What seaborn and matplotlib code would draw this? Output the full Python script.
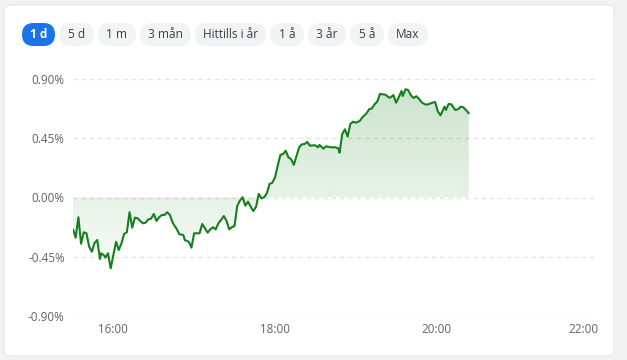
import numpy as np
import pandas as pd
import matplotlib
matplotlib.use("Agg")
import matplotlib.pyplot as plt
import matplotlib.dates as mdates
from matplotlib.patches import FancyBboxPatch
import seaborn as sns

#%% data
# minutes after 15:30 and change in percent
minutes = [0, 2, 4, 6, 8, 10, 12, 14, 16, 18, 20, 21, 23, 24, 26, 28, 30, 32, 34, 36,
           38, 40, 42, 44, 46, 48, 50, 52, 54, 56, 58, 60, 62, 64, 66, 68, 70, 72, 74, 77,
           79, 82, 83, 86, 88, 90, 92, 94, 96, 98, 100, 102, 104, 106, 108, 110, 112, 114, 116, 118,
           120, 122, 124, 126, 128, 130, 132, 134, 136, 138, 140, 142, 144, 146, 148, 150, 152, 154, 156, 158,
           160, 162, 164, 166, 168, 170, 172, 174, 176, 178, 180, 182, 183, 184, 186, 188, 190, 192, 195, 197,
           198, 200, 202, 204, 206, 208, 210, 213, 215, 218, 220, 222, 224, 226, 228, 230, 232, 235, 236, 238,
           240, 242, 244, 245, 247, 249, 251, 253, 255, 257, 259, 262, 264, 267, 269, 271, 273, 276, 277, 279,
           281, 284, 286, 288, 290, 293, 294]
change_pct = [-0.242, -0.305, -0.150, -0.351, -0.264, -0.272, -0.374, -0.412, -0.346, -0.323,
              -0.467, -0.424, -0.439, -0.457, -0.424, -0.538, -0.437, -0.336, -0.399, -0.348,
              -0.277, -0.264, -0.112, -0.229, -0.153, -0.158, -0.178, -0.196, -0.191, -0.166,
              -0.161, -0.125, -0.178, -0.150, -0.133, -0.133, -0.112, -0.133, -0.191, -0.239,
              -0.279, -0.285, -0.323, -0.336, -0.381, -0.272, -0.272, -0.272, -0.201, -0.234,
              -0.267, -0.242, -0.226, -0.242, -0.196, -0.171, -0.141, -0.176, -0.242, -0.226,
              -0.216, -0.065, -0.024, 0.002, -0.062, -0.032, -0.070, -0.103, -0.070, 0.027,
              -0.006, 0.002, 0.032, 0.103, 0.112, 0.150, 0.239, 0.323, 0.330, 0.355,
              0.305, 0.292, 0.247, 0.315, 0.381, 0.404, 0.406, 0.422, 0.393, 0.396,
              0.396, 0.381, 0.399, 0.391, 0.371, 0.389, 0.384, 0.381, 0.381, 0.374,
              0.340, 0.482, 0.518, 0.462, 0.558, 0.576, 0.568, 0.581, 0.609, 0.639,
              0.670, 0.677, 0.708, 0.728, 0.786, 0.784, 0.781, 0.758, 0.761, 0.778,
              0.720, 0.761, 0.809, 0.771, 0.822, 0.816, 0.776, 0.756, 0.769, 0.750,
              0.723, 0.705, 0.708, 0.720, 0.725, 0.655, 0.624, 0.690, 0.665, 0.710,
              0.708, 0.665, 0.670, 0.690, 0.685, 0.652, 0.639]

y_ticks = [-0.90, -0.45, 0.00, 0.45, 0.90]
x_tick_labels = ["16:00", "18:00", "20:00", "22:00"]
buttons = ["1 d", "5 d", "1 m", "3 mån", "Hittills i år", "1 å", "3 år", "5 å", "Max"]

day = pd.Timestamp("2024-01-01")
df = pd.DataFrame({
    "time": day + pd.Timedelta(hours=15, minutes=30) + pd.to_timedelta(minutes, unit="m"),
    "change": change_pct,
})

#%% style
sns.set_style("white")
plt.rcParams["font.family"] = ["Open Sans", "DejaVu Sans"]

W, H = 627, 360
fig = plt.figure(figsize=(W / 100, H / 100), dpi=100)
fig.patch.set_facecolor("#f2f2f2")

# white card
card = FancyBboxPatch((4 / W, 1 - 356 / H), 610 / W, 351 / H,
                      boxstyle="round,pad=0,rounding_size=0.014",
                      transform=fig.transFigure, facecolor="white",
                      edgecolor="#e6e6e6", linewidth=0.8, zorder=-5)
fig.patches.append(card)

# range buttons
btn_x = [(22, 55), (59, 94), (98, 136), (140, 191), (195, 266),
         (270, 304), (308, 346), (350, 384), (388, 428)]
for label, (x0, x1) in zip(buttons, btn_x):
    selected = label == "1 d"
    pill = FancyBboxPatch((x0 / W, 1 - 46 / H), (x1 - x0) / W, 23 / H,
                          boxstyle="round,pad=0,rounding_size=0.018",
                          transform=fig.transFigure, mutation_aspect=W / H,
                          facecolor="#1a73e8" if selected else "#f1f3f4",
                          edgecolor="none", zorder=1)
    fig.patches.append(pill)
    fig.text((x0 + x1) / 2 / W, 1 - 34.5 / H, label, ha="center", va="center",
             fontsize=8.6, color="white" if selected else "#3c4043",
             fontweight="bold" if selected else "normal")

#%% chart
ax = fig.add_axes([73 / W, 1 - 316 / H, 525 / W, 237 / H])
ax.set_zorder(2)
ax.set_facecolor("none")

sns.lineplot(data=df, x="time", y="change", ax=ax, color="#15801b",
             linewidth=1.5, zorder=3)

# gradient fill under the line
x_num = mdates.date2num(df["time"])
poly = ax.fill_between(x_num, df["change"], 0, color="none", linewidth=0)
grad = np.linspace(0, 1, 256).reshape(-1, 1)
rgba = np.zeros((256, 1, 4))
rgba[..., 0] = 21 / 255
rgba[..., 1] = 128 / 255
rgba[..., 2] = 27 / 255
rgba[..., 3] = 0.02 + 0.2 * grad
img = ax.imshow(rgba, extent=[x_num.min(), x_num.max(), -0.6, 0.85],
                origin="lower", aspect="auto", zorder=2)
img.set_clip_path(poly.get_paths()[0], transform=ax.transData)

x_start = day + pd.Timedelta(hours=15, minutes=30)
x_end = day + pd.Timedelta(hours=22)
ax.set_xlim(x_start, x_end)
ax.set_ylim(-0.9, 0.9)

ax.set_yticks(y_ticks)
ax.set_yticklabels([f"{v:.2f}%" for v in y_ticks])
tick_times = [day + pd.Timedelta(hours=h) for h in (16, 18, 20, 22)]
ax.set_xticks(tick_times)
ax.set_xticklabels(x_tick_labels)
ax.get_xticklabels()[-1].set_horizontalalignment("right")

ax.tick_params(axis="both", length=0, labelsize=8.4, colors="#5f6368")
ax.tick_params(axis="y", pad=6)
ax.tick_params(axis="x", pad=5)
for lab in ax.get_xticklabels() + ax.get_yticklabels():
    lab.set_color("#5f6368")
ax.get_xticklabels()[-1].set_x(mdates.date2num(x_end))

ax.grid(axis="y", color="#e3e3e3", linestyle=(0, (3, 3)), linewidth=1)
ax.grid(axis="x", visible=False)
ax.set_axisbelow(True)
for side in ax.spines.values():
    side.set_visible(False)
ax.set_xlabel("")
ax.set_ylabel("")

fig.savefig("out.png", dpi=100)
